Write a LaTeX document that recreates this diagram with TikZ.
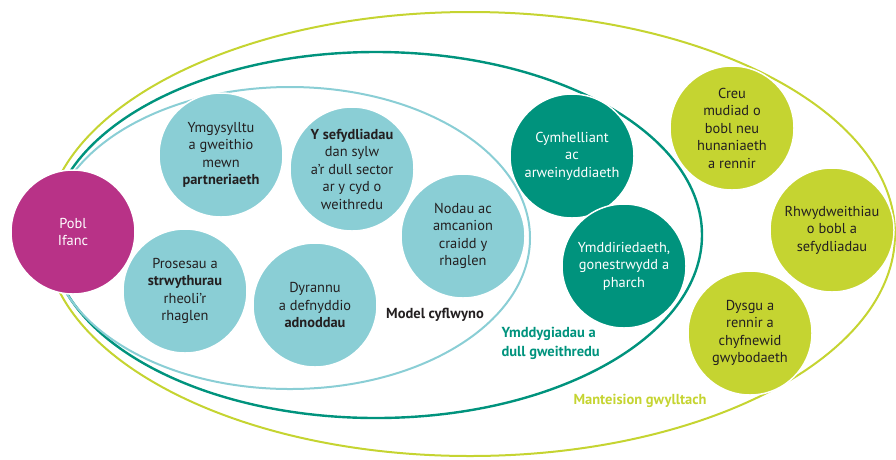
\documentclass[tikz,border=0pt]{standalone}
\usepackage{fontspec}
\setmainfont{PT Sans}
\usetikzlibrary{positioning}

\definecolor{poblpink}{HTML}{B83287}
\definecolor{modelblue}{HTML}{8ACED5}
\definecolor{dullteal}{HTML}{00937D}
\definecolor{mantlime}{HTML}{C5D431}
\definecolor{inktext}{HTML}{231F20}

\begin{document}
\begin{tikzpicture}[x=1pt,y=-1pt,
    bubble/.style={circle, minimum size=124pt, inner sep=0pt, align=center,
        draw=white, line width=1.5pt, text=inktext,
        font=\fontsize{14.4}{17.5}\selectfont},
    blue bubble/.style={bubble, fill=modelblue},
    teal bubble/.style={bubble, fill=dullteal, text=white},
    lime bubble/.style={bubble, fill=mantlime},
    ring/.style={line width=2pt},
    tag/.style={font=\fontsize{14.5}{19}\selectfont\bfseries, align=left}]
\useasboundingbox (0,0) rectangle (896,459);

% rings
\draw[ring, mantlime] (470,234) ellipse [x radius=425pt, y radius=222pt];
\draw[ring, dullteal, line width=2.4pt] (376,235) ellipse [x radius=326pt, y radius=183pt];
\draw[ring, modelblue] (290,238) ellipse [x radius=240pt, y radius=151pt];

% model cyflwyno
\node[blue bubble] (ymgys) at (221,155) {Ymgysylltu\\a gweithio\\mewn\\\textbf{partneriaeth}};
\node[blue bubble] (sefyd) at (352,169) {\textbf{Y sefydliadau}\\dan sylw\\a'r dull sector\\ar y cyd o\\weithredu};
\node[blue bubble] (nodau) at (463,236) {Nodau ac\\amcanion\\craidd y\\rhaglen};
\node[blue bubble] (prose) at (185,291) {Prosesau a\\\textbf{strwythurau}\\rheoli'r\\rhaglen};
\node[blue bubble] (dyran) at (315,305) {Dyrannu\\a defnyddio\\\textbf{adnoddau}};

% ymddygiadau
\node[teal bubble] (cymh) at (572,156) {Cymhelliant\\ac\\arweinyddiaeth};
\node[teal bubble] (ymdd) at (624,266) {Ymddiriedaeth,\\gonestrwydd a\\pharch};

% manteision
\node[lime bubble] (creu) at (732,128) {Creu\\mudiad o\\bobl neu\\hunaniaeth\\a rennir};
\node[lime bubble] (rhwyd) at (832,230) {Rhwydweithiau\\o bobl a\\sefydliadau};
\node[lime bubble] (dysgu) at (750,333) {Dysgu a\\rennir a\\chyfnewid\\gwybodaeth};

\node[bubble, fill=poblpink, text=white] (pobl) at (73,232) {Pobl\\Ifanc};

% labels
\node[tag, text=inktext] (model) at (435,315) {Model cyflwyno};
\node[tag, text=dullteal, anchor=west] (ymddyg) at (498,343) {Ymddygiadau a\\dull gweithredu};
\node[tag, text=mantlime] (mant) at (640,401) {Manteision gwylltach};
\end{tikzpicture}
\end{document}
